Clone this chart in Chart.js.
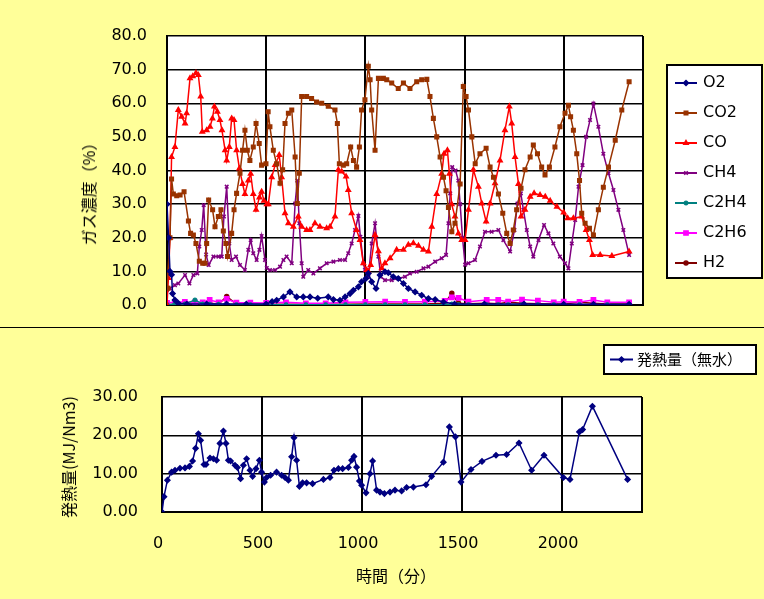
<!DOCTYPE html>
<html>
<head>
<meta charset="utf-8">
<script src="https://cdn.jsdelivr.net/npm/chart.js@4.4.0/dist/chart.umd.min.js"></script>
<style>
  body { margin: 0; background: #FFFF99; width: 764px; height: 599px; overflow: hidden; position: relative; font-family: "DejaVu Sans", sans-serif; }
  #gasChart { position: absolute; left: 0; top: 0; }
  #heatChart { position: absolute; left: 0; top: 329px; }
  .divider { position: absolute; left: 0; top: 327px; width: 764px; height: 1px; background: #000; }
  .ytitle { position: absolute; font-family: "Noto Sans CJK JP", sans-serif; font-size: 16px; white-space: nowrap; transform: translate(-50%, -50%) rotate(-90deg); }
  .xtitle { position: absolute; font-family: "Noto Sans CJK JP", sans-serif; font-size: 16px; white-space: nowrap; transform: translate(-50%, -50%); }
</style>
</head>
<body>
<canvas id="gasChart" width="764" height="328"></canvas>
<div class="divider"></div>
<canvas id="heatChart" width="764" height="270"></canvas>
<div class="ytitle" style="left:88px; top:190px;">ガス濃度（%）</div>
<div class="ytitle" style="left:68px; top:457px;">発熱量(MJ/Nm3)</div>
<div class="xtitle" style="left:396px; top:575px;">時間（分）</div>
<script>
// time axis ticks (minutes); the axis runs to 2400
const timeTicks = [0, 500, 1000, 1500, 2000];
const timeMax = 2400;

// gas composition (%), time in minutes
const o2Times = [0, 8, 15, 23, 28, 40, 57, 100, 200, 300, 400, 500, 530, 553, 587, 620, 654, 687, 721, 760, 813, 839, 872, 898, 923, 940, 965, 981, 1003, 1015, 1032, 1054, 1074, 1099, 1116, 1141, 1166, 1192, 1217, 1251, 1284, 1318, 1352, 1394, 1450, 1600, 1800, 2000, 2150, 2330];
const o2Values = [30, 20, 10, 9, 3.4, 1.5, 0.5, 0.3, 0.3, 0.3, 0.3, 0.3, 1.0, 1.4, 2.4, 3.9, 2.4, 2.4, 2.4, 2.0, 2.4, 1.6, 1.4, 2.4, 3.4, 4.4, 5.4, 6.9, 7.9, 9.4, 6.9, 4.9, 8.9, 9.9, 9.6, 8.4, 7.9, 6.4, 4.9, 3.9, 2.9, 1.9, 1.6, 0.9, 0.3, 0.3, 0.3, 0.2, 0.2, 0.2];

const co2Times = [0, 5, 15, 23, 32, 49, 66, 86, 108, 119, 133, 146, 163, 180, 192, 200, 210, 230, 242, 259, 272, 284, 297, 305, 326, 338, 351, 368, 381, 393, 405, 418, 435, 449, 465, 477, 499, 510, 519, 536, 553, 570, 583, 595, 612, 629, 646, 657, 667, 679, 704, 729, 754, 780, 813, 847, 859, 869, 889, 906, 926, 940, 956, 970, 981, 998, 1015, 1024, 1032, 1049, 1066, 1091, 1108, 1133, 1166, 1192, 1225, 1259, 1284, 1310, 1326, 1343, 1360, 1377, 1394, 1407, 1419, 1436, 1452, 1478, 1494, 1508, 1520, 1537, 1554, 1578, 1609, 1629, 1646, 1671, 1693, 1713, 1730, 1746, 1763, 1785, 1805, 1831, 1847, 1868, 1889, 1906, 1928, 1956, 1981, 2007, 2024, 2035, 2049, 2066, 2080, 2091, 2108, 2130, 2150, 2175, 2200, 2226, 2260, 2293, 2330];
const co2Values = [5, 5, 20, 37.5, 33, 32.5, 32.7, 33.7, 25, 21.3, 20.8, 18.3, 13, 12.4, 12.4, 18.3, 31.2, 28.3, 23.3, 26.3, 28.3, 22, 18.3, 14.4, 21.3, 28.3, 33.2, 39.2, 46, 52, 46, 43, 47, 54, 48, 41.6, 42, 57.5, 53, 46, 42, 36.2, 40.2, 54, 57, 58, 44, 30.2, 39.2, 62, 62, 61.4, 60.4, 60, 59.1, 58, 54, 42, 41.6, 42, 47, 43, 41, 47, 58, 61, 71, 67, 58, 46, 67.4, 67.4, 67, 66, 64.4, 66, 64.4, 66.4, 67, 67.1, 62, 55.5, 50, 44, 38, 34, 29, 21.8, 24.3, 36, 65, 62, 58, 50, 42, 45, 46.6, 41, 38, 33, 27.3, 21.3, 18.3, 22.3, 28.3, 34.7, 40.2, 44, 47.6, 45, 41, 38.7, 41, 47, 53, 57, 59.4, 56, 52, 45, 37, 27.3, 24.3, 22.8, 20.8, 28.3, 35, 41, 49, 58, 66.4];

const coTimes = [0, 7, 15, 23, 40, 57, 74, 91, 99, 116, 130, 146, 158, 170, 178, 200, 217, 229, 239, 254, 267, 277, 293, 301, 314, 326, 338, 351, 365, 381, 393, 410, 422, 435, 449, 466, 477, 489, 503, 511, 528, 545, 566, 578, 595, 612, 637, 662, 679, 704, 721, 746, 771, 805, 822, 847, 864, 881, 903, 914, 931, 956, 973, 990, 1007, 1015, 1027, 1049, 1066, 1083, 1099, 1125, 1158, 1192, 1217, 1242, 1268, 1293, 1318, 1335, 1360, 1385, 1397, 1414, 1424, 1435, 1452, 1469, 1486, 1503, 1520, 1545, 1570, 1587, 1609, 1629, 1654, 1679, 1704, 1726, 1738, 1755, 1772, 1785, 1805, 1831, 1851, 1881, 1907, 1932, 1966, 2000, 2020, 2049, 2091, 2113, 2130, 2146, 2184, 2243, 2330];
const coValues = [0, 8, 20, 44, 47, 58, 56, 54, 57, 67.4, 68, 69, 68.4, 62, 51.5, 52, 53, 55.5, 59, 57.5, 55, 52, 46, 43, 47, 55.5, 55, 46, 40.6, 36, 33, 37, 39, 33, 28.3, 32, 33.7, 31, 30, 30, 38, 41.6, 44.6, 38, 27.3, 24.3, 23.3, 26.3, 23.3, 22.3, 22.3, 24.3, 23.3, 22.8, 23.3, 26.3, 40.2, 39.7, 38.2, 34.2, 27.3, 22.3, 19.3, 12.4, 10.4, 9.9, 11.9, 20.8, 16, 10.9, 12.4, 13.9, 16.4, 16.4, 17.9, 18.4, 17.6, 16.4, 15.9, 23.3, 33, 39, 45, 46, 39, 30, 26.3, 21.3, 19.3, 19.3, 28.3, 40.2, 35.2, 30.2, 24.8, 30.2, 36.2, 43, 52, 59, 54, 44, 36, 26.3, 28.3, 32.2, 33.2, 32.7, 32.2, 31, 29.2, 27.5, 25.8, 25.8, 26.3, 22.3, 19.3, 14.9, 14.9, 14.6, 15.9];

const ch4Times = [0, 15, 40, 57, 91, 113, 133, 153, 163, 175, 185, 197, 210, 234, 259, 276, 287, 301, 314, 326, 348, 368, 393, 410, 422, 435, 452, 466, 477, 494, 503, 519, 545, 570, 587, 603, 629, 646, 657, 667, 679, 687, 712, 738, 771, 805, 839, 872, 898, 914, 931, 948, 965, 975, 990, 998, 1015, 1032, 1049, 1066, 1078, 1099, 1133, 1166, 1200, 1225, 1259, 1293, 1318, 1352, 1385, 1407, 1419, 1428, 1438, 1455, 1469, 1478, 1490, 1503, 1520, 1553, 1578, 1603, 1637, 1671, 1696, 1730, 1752, 1767, 1784, 1797, 1814, 1831, 1847, 1873, 1901, 1923, 1948, 1981, 2007, 2024, 2041, 2058, 2075, 2095, 2113, 2133, 2150, 2175, 2200, 2226, 2251, 2276, 2301, 2330];
const ch4Values = [4.5, 4.9, 5.9, 6.4, 8.9, 6.4, 8.9, 9.4, 17.4, 22.3, 29.7, 15, 11.9, 14.4, 14.4, 14.4, 26.3, 35.2, 18.3, 13.4, 14.4, 11.9, 10.4, 16.4, 19.3, 15.4, 13.4, 16.4, 20.5, 13.4, 11, 10.4, 10.4, 11.4, 13.4, 14.4, 12.4, 30.2, 37, 24.3, 12.4, 8.4, 10.4, 9.4, 10.9, 12.4, 12.9, 13.4, 13.4, 15.4, 18.3, 22.3, 26.5, 20.3, 12.4, 10.4, 8.4, 18.3, 24.3, 14.4, 8.4, 7.4, 7.4, 7.9, 8.4, 9.4, 9.9, 10.9, 11.4, 12.9, 13.9, 14.9, 24.3, 33.2, 41, 40, 37, 30, 20, 12, 12.4, 13.4, 17.4, 21.8, 21.8, 22.3, 19.3, 15.9, 22.3, 30.2, 33.2, 28.3, 22.3, 17.4, 14.4, 19.3, 23.8, 21.3, 18.3, 14.4, 12.4, 10.9, 18.3, 25.3, 35.2, 41.6, 50, 55, 59.9, 53, 45, 39.2, 34.2, 28.3, 22.3, 14.9];

// minor components sampled at the same times
const minorTimes = [0, 40, 90, 141, 180, 215, 260, 301, 350, 420, 500, 600, 700, 800, 900, 1000, 1100, 1200, 1300, 1400, 1436, 1470, 1520, 1612, 1670, 1720, 1790, 1870, 1950, 2000, 2080, 2150, 2220, 2330];
const c2h4Values = [0.1, 0.3, 0.3, 1.5, 0.3, 0.2, 0.2, 0.2, 0.1, 0.1, 0.1, 0.1, 0.1, 0.1, 0.1, 0.1, 0.1, 0.1, 0.1, 0.1, 0.3, 0.1, 0.1, 0.1, 0.1, 0.1, 0.1, 0.1, 0.1, 0.1, 0.1, 0.1, 0.1, 0.1];
const c2h6Values = [0.6, 0.9, 0.9, 0.8, 0.8, 1.5, 0.8, 1.8, 0.7, 0.7, 0.6, 0.8, 0.5, 0.5, 0.8, 0.9, 1.0, 0.9, 1.0, 1.2, 2.3, 2.1, 1.0, 1.5, 1.5, 1.0, 1.6, 1.3, 0.8, 1.0, 0.9, 1.5, 0.8, 0.8];
const h2Values = [0.1, 0.2, 0.3, 0.2, 0.3, 0.5, 0.3, 2.5, 0.3, 0.2, 0.2, 0.2, 0.2, 0.2, 0.2, 0.3, 0.3, 0.3, 0.3, 0.5, 3.5, 0.5, 0.4, 0.5, 0.4, 0.8, 0.5, 0.4, 0.3, 0.3, 0.8, 0.5, 0.3, 0.3];

// heating value (dry), MJ/Nm3
const heatTimes = [0, 10, 27, 48, 65, 90, 115, 137, 153, 168, 182, 193, 210, 220, 240, 257, 273, 290, 307, 320, 332, 343, 365, 377, 393, 407, 423, 440, 453, 470, 487, 498, 512, 523, 543, 573, 598, 615, 632, 648, 660, 673, 687, 703, 723, 753, 807, 840, 860, 882, 903, 932, 948, 960, 973, 987, 998, 1020, 1040, 1053, 1073, 1090, 1112, 1140, 1165, 1198, 1223, 1257, 1320, 1348, 1407, 1437, 1467, 1495, 1545, 1600, 1670, 1723, 1785, 1848, 1910, 2007, 2040, 2087, 2103, 2152, 2328];
const heatValues = [0, 4, 8.3, 10.4, 10.9, 11.4, 11.5, 11.9, 13.3, 16.6, 20.4, 18.7, 12.4, 12.4, 14.1, 13.9, 13.5, 17.9, 21.1, 17.9, 13.5, 13.3, 12.2, 11.6, 8.7, 12.2, 13.9, 10.9, 9.3, 11.3, 13.5, 10.4, 7.8, 9.0, 9.6, 10.4, 9.6, 9.0, 8.3, 14.4, 19.4, 13.5, 6.7, 7.6, 7.6, 7.4, 8.5, 9.0, 10.9, 11.3, 11.3, 11.6, 13.5, 14.5, 11.7, 8.1, 7.0, 5.0, 10.0, 13.3, 5.7, 5.2, 4.8, 5.2, 5.7, 5.5, 6.4, 6.5, 7.1, 9.3, 13.0, 22.2, 19.6, 7.8, 11.1, 13.2, 14.8, 15.0, 18.0, 10.9, 14.8, 9.0, 8.5, 20.9, 21.5, 27.6, 8.5];

function series(label, times, values, color, style, radius) {
  return {
    label: label,
    data: times.map((t, i) => ({ x: t, y: values[i] })),
    borderColor: color,
    backgroundColor: color,
    borderWidth: 1.5,
    pointStyle: style,
    pointRadius: radius,
    pointBorderWidth: 1.5,
    tension: 0
  };
}

function noPad(s) {
  s.paddingLeft = 0; s.paddingRight = 0; s.paddingTop = 0; s.paddingBottom = 0;
}

// 0,500,...,2000 plus the right edge
function timeAxisTicks(s) {
  s.ticks = timeTicks.concat([timeMax]).map(v => ({ value: v }));
}

// white plot area
const plotBg = {
  id: 'plotBg',
  beforeDraw(chart) {
    const a = chart.chartArea;
    chart.ctx.save();
    chart.ctx.fillStyle = '#fff';
    chart.ctx.fillRect(a.left, a.top, a.right - a.left, a.bottom - a.top);
    chart.ctx.restore();
  }
};

// boxed legend like the spreadsheet one
const boxLegend = {
  id: 'boxLegend',
  afterDraw(chart, args, o) {
    const ctx = chart.ctx;
    ctx.save();
    ctx.fillStyle = '#fff';
    ctx.fillRect(o.x, o.y, o.w, o.h);
    ctx.lineWidth = 2;
    ctx.strokeStyle = '#000';
    ctx.strokeRect(o.x, o.y, o.w, o.h);
    chart.data.datasets.forEach((ds, i) => {
      const y = o.y + o.first + i * o.step;
      ctx.strokeStyle = ds.borderColor;
      ctx.fillStyle = ds.borderColor;
      ctx.lineWidth = 2;
      ctx.beginPath();
      ctx.moveTo(o.x + o.lx1, y);
      ctx.lineTo(o.x + o.lx2, y);
      ctx.stroke();
      ctx.lineWidth = 1.5;
      Chart.helpers.drawPoint(ctx, { pointStyle: ds.pointStyle, radius: ds.pointRadius, borderWidth: 1.5 }, o.x + (o.lx1 + o.lx2) / 2, y);
      ctx.fillStyle = '#000';
      ctx.font = o.font;
      ctx.textBaseline = 'middle';
      ctx.fillText(ds.label, o.x + o.tx, y);
    });
    ctx.restore();
  }
};

const tickFont = { family: 'DejaVu Sans', size: 16 };

new Chart(document.getElementById('gasChart'), {
  type: 'line',
  data: {
    datasets: [
      series('O2', o2Times, o2Values, '#000080', 'rectRot', 2.5),
      series('CO2', co2Times, co2Values, '#993300', 'rect', 2.5),
      series('CO', coTimes, coValues, '#FF0000', 'triangle', 2.5),
      series('CH4', ch4Times, ch4Values, '#800080', 'crossRot', 2.5),
      series('C2H4', minorTimes, c2h4Values, '#008080', 'star', 2.5),
      series('C2H6', minorTimes, c2h6Values, '#FF00FF', 'rect', 3),
      series('H2', minorTimes, h2Values, '#800000', 'circle', 2)
    ]
  },
  options: {
    responsive: false,
    devicePixelRatio: 1,
    animation: false,
    layout: { padding: { left: 0, right: 121, top: 36, bottom: 23 } },
    plugins: {
      legend: { display: false },
      tooltip: { enabled: false },
      boxLegend: { x: 667, y: 65, w: 95, h: 213, first: 18, step: 30, lx1: 8, lx2: 30, tx: 36, font: '16px "DejaVu Sans"' }
    },
    scales: {
      x: {
        type: 'linear', min: 0, max: timeMax,
        afterBuildTicks: timeAxisTicks,
        ticks: { display: false },
        grid: { color: '#000', lineWidth: 2, drawTicks: false },
        border: { color: '#000', width: 2 },
        afterFit: s => { s.height = 0; noPad(s); }
      },
      y: {
        min: 0, max: 80,
        ticks: { stepSize: 10, padding: 20, color: '#000', font: tickFont, callback: v => v.toFixed(1) },
        grid: { color: '#000', lineWidth: 1.5, drawTicks: false },
        border: { color: '#000', width: 2 },
        afterFit: s => { s.width = 167; noPad(s); }
      }
    }
  },
  plugins: [plotBg, boxLegend]
});

new Chart(document.getElementById('heatChart'), {
  type: 'line',
  data: {
    datasets: [
      series('発熱量（無水）', heatTimes, heatValues, '#000080', 'rectRot', 2.5)
    ]
  },
  options: {
    responsive: false,
    devicePixelRatio: 1,
    animation: false,
    layout: { padding: { left: 0, right: 122, top: 68, bottom: 37 } },
    plugins: {
      legend: { display: false },
      tooltip: { enabled: false },
      boxLegend: { x: 604, y: 16, w: 152, h: 29, first: 14.5, step: 30, lx1: 6, lx2: 29, tx: 33, font: '15px "Noto Sans CJK JP"' }
    },
    scales: {
      x: {
        type: 'linear', min: 0, max: timeMax,
        afterBuildTicks: timeAxisTicks,
        ticks: { padding: 22, labelOffset: -4, color: '#000', font: tickFont, maxRotation: 0, autoSkip: false, callback: v => (v === timeMax ? '' : v) },
        grid: { color: '#000', lineWidth: 2, drawTicks: false },
        border: { color: '#000', width: 2 },
        afterFit: s => { s.height = 50; noPad(s); }
      },
      y: {
        min: 0, max: 30,
        ticks: { stepSize: 10, padding: 24, color: '#000', font: tickFont, callback: v => v.toFixed(2) },
        grid: { color: '#000', lineWidth: 1.5, drawTicks: false },
        border: { color: '#000', width: 2 },
        afterFit: s => { s.width = 162; noPad(s); }
      }
    }
  },
  plugins: [plotBg, boxLegend]
});
</script>
</body>
</html>
